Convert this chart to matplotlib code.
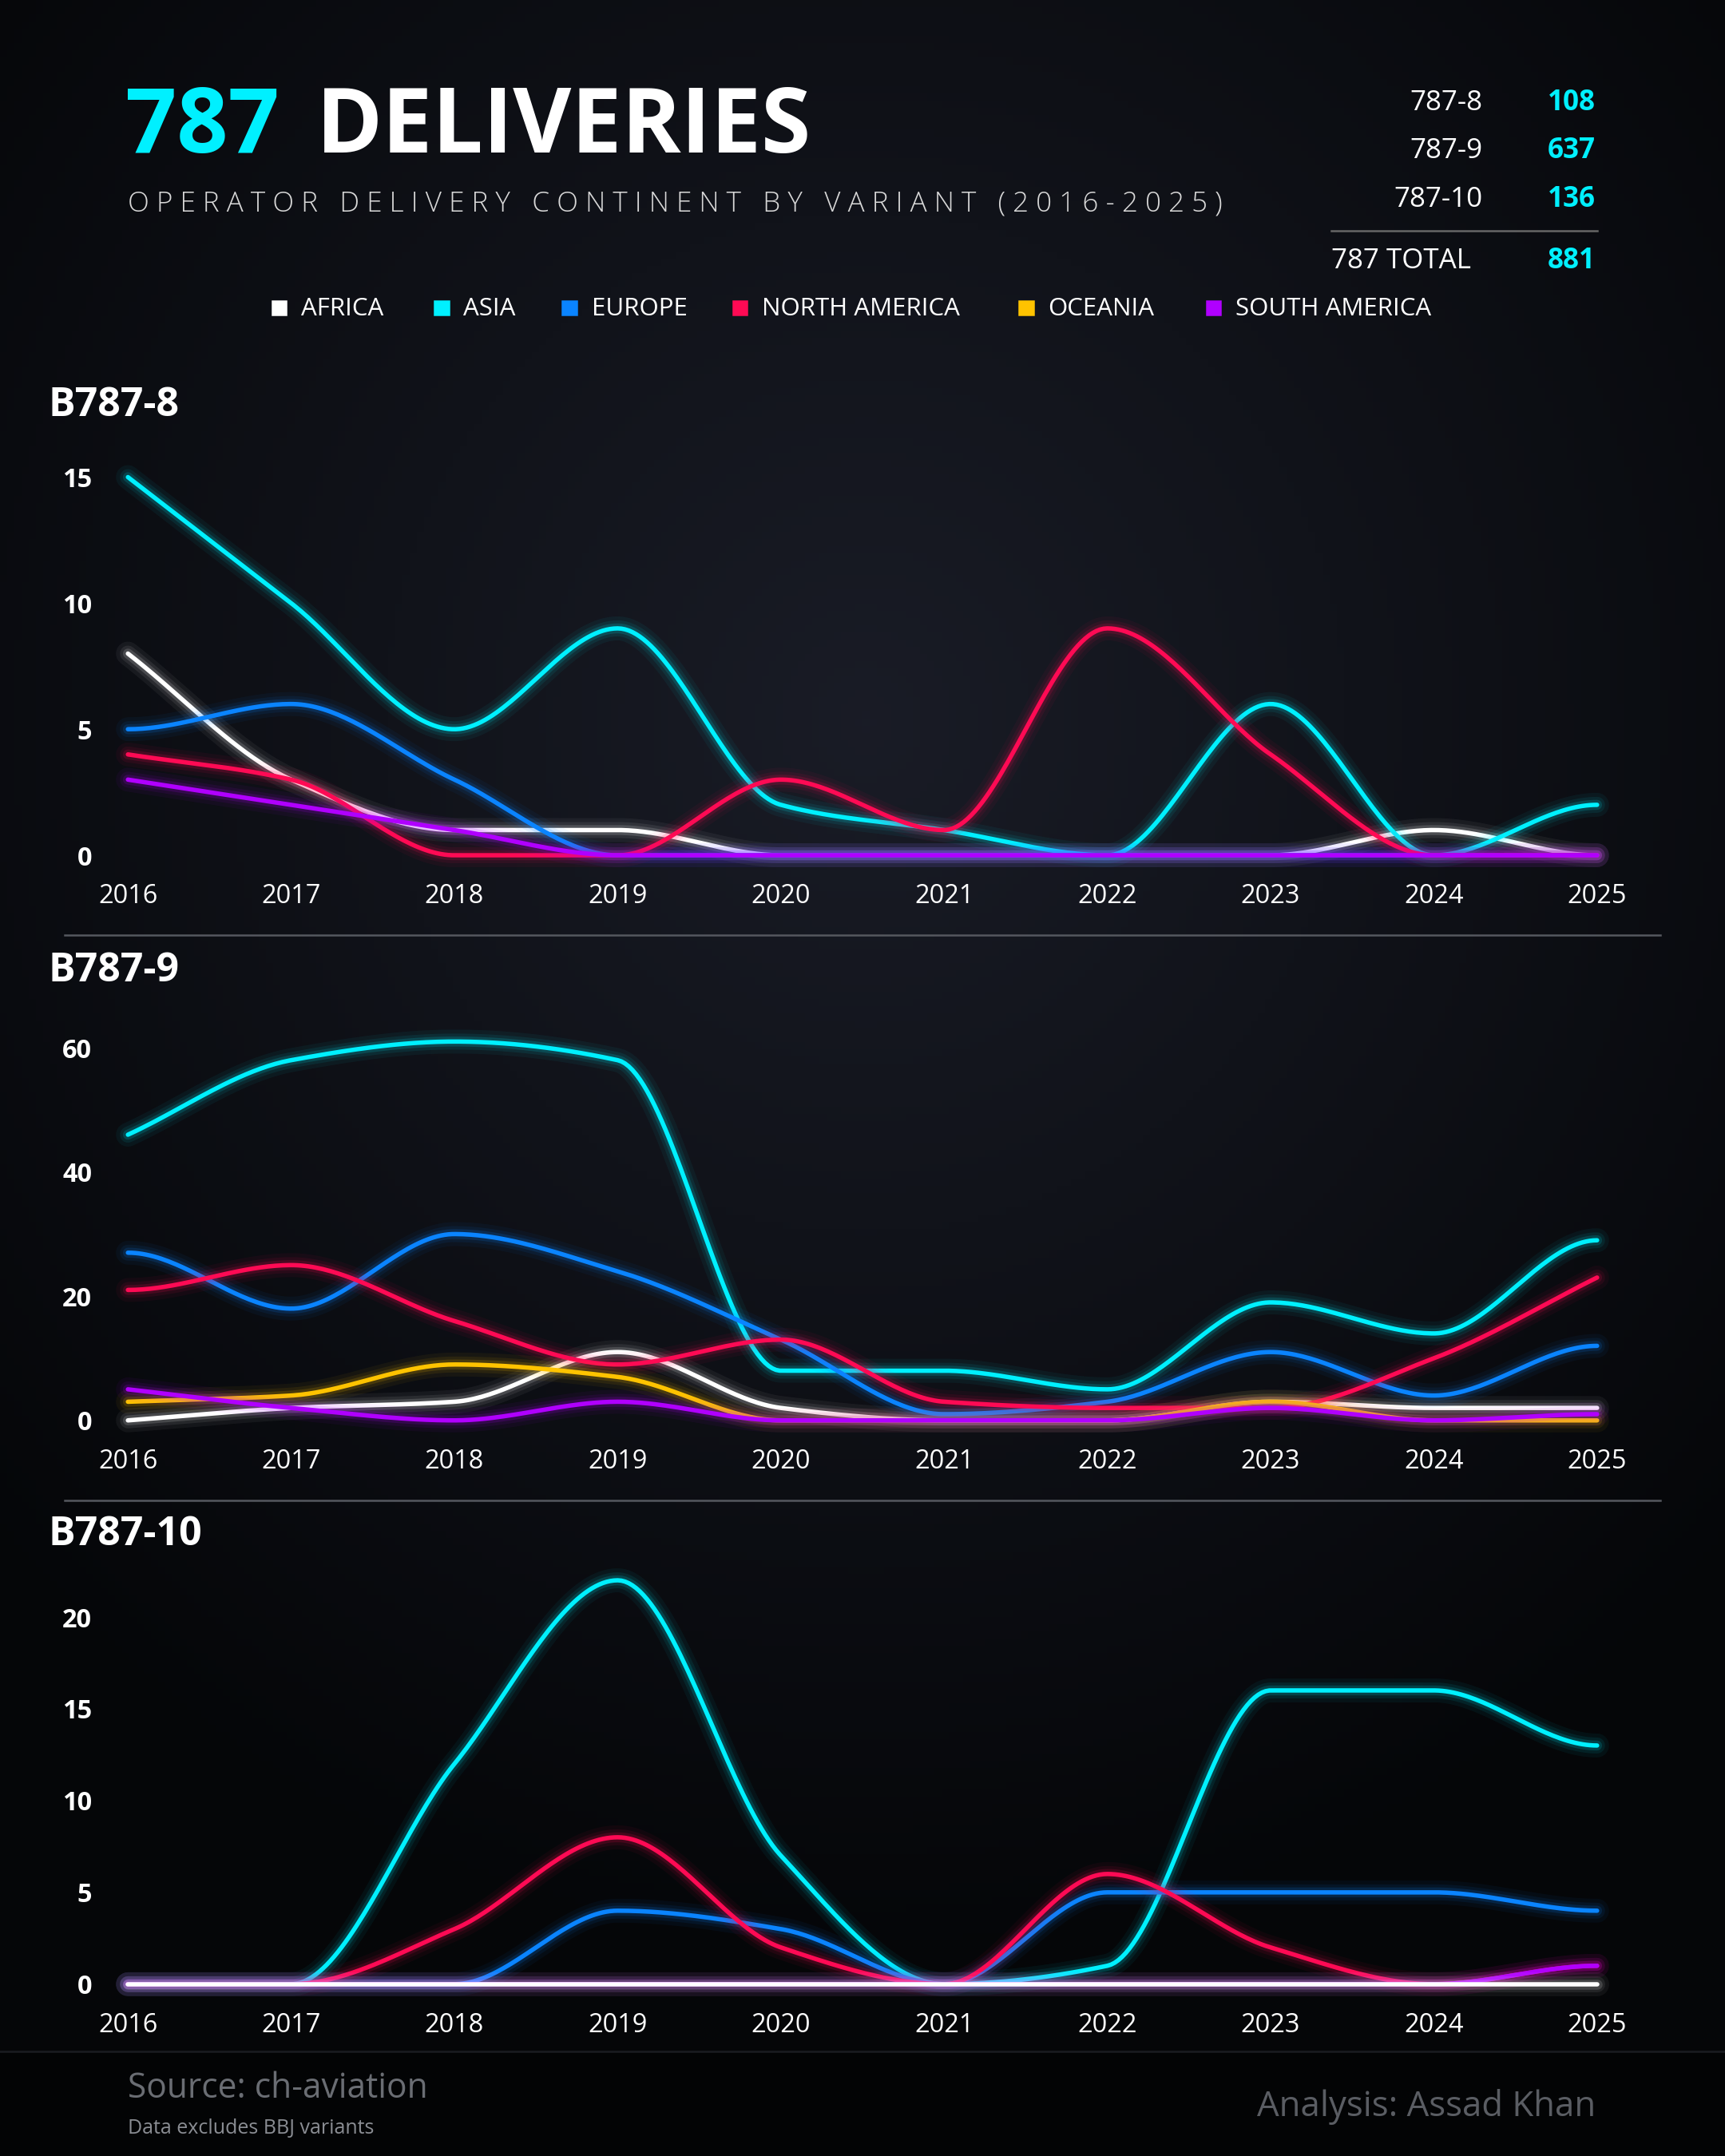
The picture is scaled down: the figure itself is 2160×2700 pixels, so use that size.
import numpy as np
import matplotlib
matplotlib.use("Agg")
import matplotlib.pyplot as plt

plt.rcParams['font.family'] = ['Open Sans', 'DejaVu Sans']

years = list(range(2016, 2026))
continents = ["AFRICA", "ASIA", "EUROPE", "NORTH AMERICA", "OCEANIA", "SOUTH AMERICA"]
colors = ["#ffffff", "#00f0ff", "#0a84ff", "#ff0a54", "#ffc300", "#b000ff"]

b8_africa = [8, 3, 1, 1, 0, 0, 0, 0, 1, 0]
b8_asia = [15, 10, 5, 9, 2, 1, 0, 6, 0, 2]
b8_europe = [5, 6, 3, 0, 0, 0, 0, 0, 0, 0]
b8_na = [4, 3, 0, 0, 3, 1, 9, 4, 0, 0]
b8_oceania = None
b8_sa = [3, 2, 1, 0, 0, 0, 0, 0, 0, 0]

b9_africa = [0, 2, 3, 11, 2, 0, 0, 3, 2, 2]
b9_asia = [46, 58, 61, 58, 8, 8, 5, 19, 14, 29]
b9_europe = [27, 18, 30, 24, 13, 1, 3, 11, 4, 12]
b9_na = [21, 25, 16, 9, 13, 3, 2, 2, 10, 23]
b9_oceania = [3, 4, 9, 7, 0, 0, 0, 3, 0, 0]
b9_sa = [5, 2, 0, 3, 0, 0, 0, 2, 0, 1]

b10_africa = [0, 0, 0, 0, 0, 0, 0, 0, 0, 0]
b10_asia = [0, 0, 12, 22, 7, 0, 1, 16, 16, 13]
b10_europe = [0, 0, 0, 4, 3, 0, 5, 5, 5, 4]
b10_na = [0, 0, 3, 8, 2, 0, 6, 2, 0, 1]
b10_oceania = None
b10_sa = [0, 0, 0, 0, 0, 0, 0, 0, 0, 1]

totals_labels = ["787-8", "787-9", "787-10"]
totals_values = [108, 637, 136]
grand_total = 881

panels = [
    ("B787-8", [b8_africa, b8_asia, b8_europe, b8_na, b8_oceania, b8_sa], [0, 5, 10, 15], 15, None),
    ("B787-9", [b9_africa, b9_asia, b9_europe, b9_na, b9_oceania, b9_sa], [0, 20, 40, 60], 60, None),
    ("B787-10", [b10_africa, b10_asia, b10_europe, b10_na, b10_oceania, b10_sa], [0, 5, 10, 15, 20], 20, 0),
]


def pchip(x, y, n=400):
    x = np.asarray(x, float); y = np.asarray(y, float)
    h = np.diff(x); d = np.diff(y) / h
    m = np.zeros_like(y)
    for k in range(1, len(x) - 1):
        if d[k - 1] * d[k] > 0:
            w1 = 2 * h[k] + h[k - 1]; w2 = h[k] + 2 * h[k - 1]
            m[k] = (w1 + w2) / (w1 / d[k - 1] + w2 / d[k])
    m[0] = d[0] if d[0] * d[1] > 0 else 0
    m[-1] = d[-1] if d[-1] * d[-2] > 0 else 0
    xs = np.linspace(x[0], x[-1], n)
    idx = np.clip(np.searchsorted(x, xs) - 1, 0, len(x) - 2)
    t = (xs - x[idx]) / h[idx]
    h00 = 2*t**3 - 3*t**2 + 1; h10 = t**3 - 2*t**2 + t
    h01 = -2*t**3 + 3*t**2; h11 = t**3 - t**2
    ys = h00*y[idx] + h10*h[idx]*m[idx] + h01*y[idx+1] + h11*h[idx]*m[idx+1]
    return xs, ys


W, H = 1254, 1568
fig = plt.figure(figsize=(12, 15), dpi=180)
bg = fig.add_axes([0, 0, 1, 1]); bg.set_axis_off()
yy, xx = np.mgrid[0:300, 0:240]
r = np.sqrt(((xx - 120) / 160) ** 2 + ((yy - 100) / 170) ** 2)
v = np.clip(1 - r, 0, 1)
c0 = np.array([0.02, 0.025, 0.035]); c1 = np.array([0.10, 0.11, 0.15])
img = c0 + (c1 - c0) * v[..., None]
bg.imshow(img, extent=[0, 1, 0, 1], aspect="auto", origin="upper")
bg.add_patch(plt.Rectangle((0, 0), 1, 1 - 1492 / H, color="#030405", zorder=2))
bg.plot([0, 1], [1 - 1492 / H] * 2, color="#1a1c22", lw=1, zorder=3)
bg.set_xlim(0, 1); bg.set_ylim(0, 1)

def fx(p): return p / W
def fy(p): return 1 - p / H

# Title
fig.text(fx(91), fy(94), "787", color="#00f0ff", fontsize=45, fontweight="bold", va="center")
fig.text(fx(230), fy(94), "DELIVERIES", color="white", fontsize=45, fontweight="bold", va="center")
fig.text(fx(93), fy(148), " ".join("OPERATOR DELIVERY CONTINENT BY VARIANT (2016-2025)"),
         color="#d8d8d8", fontsize=14, va="center", fontweight="light")
for i, (lab, val) in enumerate(zip(totals_labels, totals_values)):
    y = fy(75 + 35 * i)
    fig.text(fx(1078), y, lab, color="white", fontsize=14, ha="right", va="center", fontweight="medium")
    fig.text(fx(1160), y, str(val), color="#00f0ff", fontsize=14, ha="right", va="center", fontweight="bold")
bg.plot([fx(968), fx(1161)], [fy(168)] * 2, color="#666", lw=1, zorder=3)
fig.text(fx(968), fy(190), "787 TOTAL", color="white", fontsize=14, va="center", fontweight="medium")
fig.text(fx(1160), fy(190), str(grand_total), color="#00f0ff", fontsize=14, ha="right", va="center", fontweight="bold")

# Legend
lx = [198, 316, 409, 533, 741, 877]
for x0, lab, col in zip(lx, continents, colors):
    bg.add_patch(plt.Rectangle((fx(x0), fy(229)), fx(10), 10 / H, color=col, zorder=4))
    fig.text(fx(x0 + 21), fy(225), lab, color="white", fontsize=12.5, va="center")

rects = [(347, 622), (762, 1033), (1176, 1443)]
titles_y = [295, 706, 1116]
for (name, series, yt, ymax, last), (top, bot), ty in zip(panels, rects, titles_y):
    ax = fig.add_axes([fx(93), fy(bot), fx(1161) - fx(93), (bot - top) / H])
    ax.set_facecolor("none")
    for s in ax.spines.values(): s.set_visible(False)
    ax.set_xlim(2016, 2025); ax.set_ylim(0, ymax)
    order = list(range(len(series)))
    if last is not None:
        order.remove(last); order.append(last)
    for i in order:
        vals, col = series[i], colors[i]
        if vals is None:
            continue
        xs, ys = pchip(years, vals)
        for lw, a in [(12, 0.05), (8, 0.08), (5, 0.15)]:
            ax.plot(xs, ys, color=col, lw=lw, alpha=a, clip_on=False, solid_capstyle="round")
        ax.plot(xs, ys, color=col, lw=2.2, clip_on=False, solid_capstyle="round")
    ax.set_xticks(years); ax.set_yticks(yt)
    ax.tick_params(length=0, colors="white", labelsize=13)
    ax.tick_params(axis="x", pad=14)
    ax.tick_params(axis="y", pad=18)
    for lbl in ax.get_yticklabels(): lbl.set_fontweight("bold")
    fig.text(fx(35), fy(ty), name, color="white", fontsize=20, fontweight="bold", va="center")

for sy in [680, 1091]:
    bg.plot([fx(47), fx(1207)], [fy(sy)] * 2, color="#55585f", lw=1, zorder=3)

fig.text(fx(93), fy(1519), "Source: ch-aviation", color="#6a6d73", fontsize=17, va="center")
fig.text(fx(93), fy(1548), "Data excludes BBJ variants", color="#8a8d93", fontsize=10, va="center")
fig.text(fx(1160), fy(1532), "Analysis: Assad Khan", color="#5a5d63", fontsize=17.5, ha="right", va="center")

fig.savefig("out.png", dpi=180, facecolor="#07080b")
